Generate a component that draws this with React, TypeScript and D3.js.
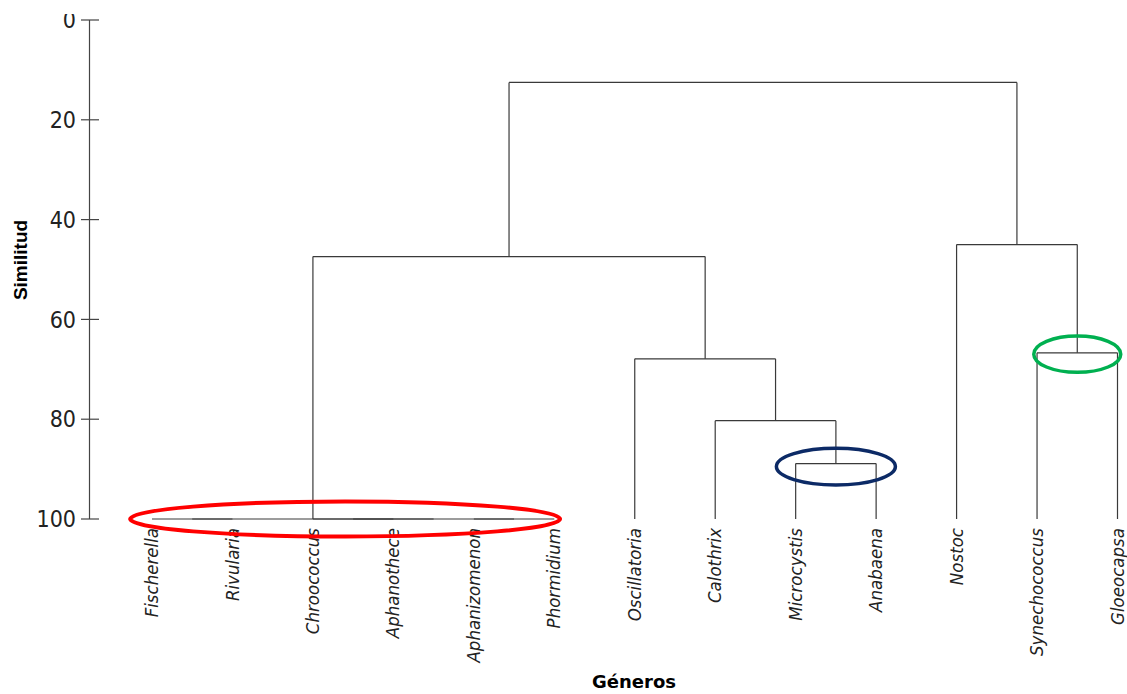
import React from "react";
import * as d3 from "d3";

// ---------- DATA ----------
const leaves: string[] = [
  "Fischerella", "Rivularia", "Chroococcus", "Aphanothece", "Aphanizomenon", "Phormidium",
  "Oscillatoria", "Calothrix", "Microcystis", "Anabaena", "Nostoc", "Synechococcus", "Gloeocapsa",
];

// linkage rows: [childA, childB, similarity]; ids >= leaves.length refer to earlier rows
const linkage: [number, number, number][] = [
  [0, 1, 100],
  [2, 3, 100],
  [4, 5, 100],
  [14, 15, 100],
  [13, 16, 100],
  [8, 9, 88.9],
  [7, 18, 80.3],
  [6, 19, 67.9],
  [17, 20, 47.4],
  [11, 12, 66.7],
  [10, 22, 45.0],
  [21, 23, 12.5],
];

const yTicks: number[] = [0, 20, 40, 60, 80, 100];

// highlighted clusters (linkage node id)
const highlightNodes: number[] = [17, 18, 22];
const highlightColors: string[] = ["#ff0000", "#0c2a66", "#00b050"];

// ---------- LAYOUT ----------
const W = 1127;
const H = 694;

export default function App() {
  const x = d3.scalePoint<string>().domain(leaves).range([152, 1117.5]);
  const y = d3.scaleLinear().domain([0, 100]).range([20, 519]);

  const n = leaves.length;
  const nodeX: number[] = [];
  const nodeH: number[] = [];
  const nodeLeaves: number[][] = [];
  leaves.forEach((l, i) => {
    nodeX[i] = x(l) as number;
    nodeH[i] = 100;
    nodeLeaves[i] = [i];
  });
  linkage.forEach(([a, b, h], k) => {
    const id = n + k;
    nodeX[id] = (nodeX[a] + nodeX[b]) / 2;
    nodeH[id] = h;
    nodeLeaves[id] = [...nodeLeaves[a], ...nodeLeaves[b]];
  });

  const lineColor = "#3a3a3a";
  const segs: { x1: number; y1: number; x2: number; y2: number }[] = [];
  linkage.forEach(([a, b, h]) => {
    const yy = y(h);
    segs.push({ x1: nodeX[a], y1: yy, x2: nodeX[b], y2: yy });
    [a, b].forEach((c) => {
      if (nodeH[c] !== h) segs.push({ x1: nodeX[c], y1: y(nodeH[c]), x2: nodeX[c], y2: yy });
    });
  });

  const ellipseStyle = [
    { dx: -8, dy: 0, rx: 215, ry: 17.5, sw: 4 },
    { dx: 0, dy: 3, rx: 59.5, ry: 18.3, sw: 3.5 },
    { dx: 0, dy: 1.3, rx: 43.5, ry: 18.2, sw: 3.5 },
  ];

  const tickFont = "'Liberation Sans Narrow', 'DejaVu Sans Condensed', 'Liberation Sans', sans-serif";

  return (
    <svg
      width={W}
      height={H}
      style={{ position: "absolute", left: 0, top: 0, background: "#fff" }}
    >
      <defs>
        <clipPath id="clipTop">
          <rect x={0} y={14} width={W} height={H} />
        </clipPath>
      </defs>
      <g clipPath="url(#clipTop)">
        {/* y axis */}
        <line x1={89.5} x2={89.5} y1={y(0)} y2={y(100)} stroke="#444" strokeWidth={1.2} />
        {yTicks.map((t) => (
          <g key={t}>
            <line x1={81} x2={99} y1={y(t)} y2={y(t)} stroke="#444" strokeWidth={1.2} />
            <text
              x={76}
              y={y(t)}
              dy="0.36em"
              textAnchor="end"
              fontFamily={tickFont}
              fontSize={23}
              fill="#222"
            >
              {t}
            </text>
          </g>
        ))}
      </g>

      {/* dendrogram */}
      {segs.map((s, i) => (
        <line key={i} x1={s.x1} y1={s.y1} x2={s.x2} y2={s.y2} stroke={lineColor} strokeWidth={1.2} />
      ))}

      {/* leaf labels */}
      {leaves.map((l) => (
        <text
          key={l}
          transform={`translate(${x(l)},528) rotate(-90)`}
          dy="0.33em"
          textAnchor="end"
          fontFamily={tickFont}
          fontStyle="italic"
          fontSize={18.5}
          fill="#222"
        >
          {l}
        </text>
      ))}

      {/* highlight ellipses */}
      {highlightNodes.map((id, i) => {
        const lx = nodeLeaves[id].map((k) => nodeX[k]);
        const cx = (d3.min(lx)! + d3.max(lx)!) / 2 + ellipseStyle[i].dx;
        const cy = y(nodeH[id]) + ellipseStyle[i].dy;
        return (
          <ellipse
            key={id}
            cx={cx}
            cy={cy}
            rx={ellipseStyle[i].rx}
            ry={ellipseStyle[i].ry}
            fill="none"
            stroke={highlightColors[i]}
            strokeWidth={ellipseStyle[i].sw}
          />
        );
      })}

      {/* axis titles */}
      <text
        transform="translate(27,260) rotate(-90)"
        textAnchor="middle"
        fontFamily="'Liberation Sans', 'DejaVu Sans', sans-serif"
        fontWeight="bold"
        fontSize={19}
        fill="#000"
      >
        Similitud
      </text>
      <text
        x={634}
        y={688}
        textAnchor="middle"
        fontFamily="'DejaVu Sans', sans-serif"
        fontWeight="bold"
        fontSize={18}
        fill="#000"
      >
        Géneros
      </text>
    </svg>
  );
}
